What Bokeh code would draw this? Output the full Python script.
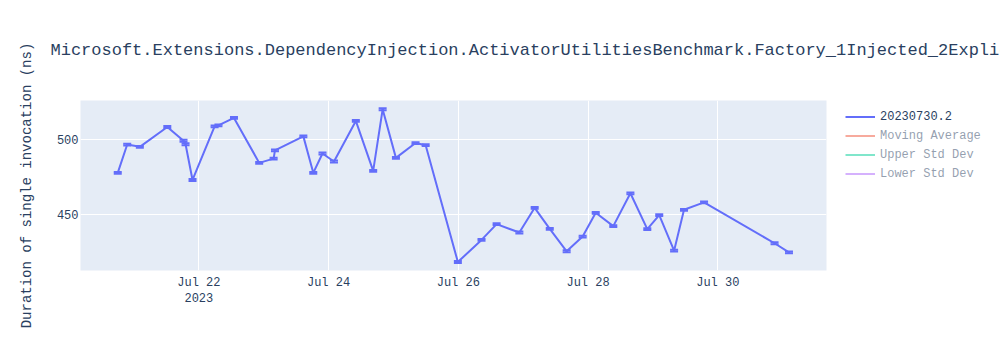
import pandas as pd
from bokeh.plotting import figure
from bokeh.models import (ColumnDataSource, Whisker, TeeHead, Legend, LegendItem,
                          DatetimeTickFormatter, DaysTicker, SingleIntervalTicker, Range1d)
from bokeh.embed import file_html
from bokeh.resources import INLINE

TITLE = "Microsoft.Extensions.DependencyInjection.ActivatorUtilitiesBenchmark.Factory_1Injected_2Explicit"
Y_LABEL = "Duration of single invocation (ns)"
SERIES_NAME = "20230730.2"
HIDDEN_SERIES = ["Moving Average", "Upper Std Dev", "Lower Std Dev"]

dates = [
    "2023-07-20 18:00", "2023-07-20 21:30", "2023-07-21 02:10", "2023-07-21 12:20",
    "2023-07-21 18:20", "2023-07-21 19:05", "2023-07-21 21:40", "2023-07-22 05:50",
    "2023-07-22 07:15", "2023-07-22 13:00", "2023-07-22 22:20", "2023-07-23 03:40",
    "2023-07-23 04:10", "2023-07-23 14:40", "2023-07-23 18:20", "2023-07-23 21:45",
    "2023-07-24 02:00", "2023-07-24 10:05", "2023-07-24 16:30", "2023-07-24 20:00",
    "2023-07-25 00:55", "2023-07-25 08:10", "2023-07-25 11:55", "2023-07-25 23:50",
    "2023-07-26 08:35", "2023-07-26 14:10", "2023-07-26 22:35", "2023-07-27 04:15",
    "2023-07-27 09:50", "2023-07-27 16:05", "2023-07-27 22:00", "2023-07-28 02:50",
    "2023-07-28 09:20", "2023-07-28 15:40", "2023-07-28 21:55", "2023-07-29 02:20",
    "2023-07-29 07:50", "2023-07-29 11:30", "2023-07-29 18:55", "2023-07-30 21:00",
    "2023-07-31 02:20",
]
durations = [
    477.8, 496.5, 495.0, 508.1,
    499.0, 496.7, 473.1, 508.5,
    509.2, 514.1, 484.4, 487.2,
    492.6, 501.9, 477.8, 490.6,
    485.3, 512.1, 479.1, 519.8,
    487.7, 497.5, 496.1, 418.9,
    433.5, 443.9, 438.4, 454.7,
    440.8, 426.0, 435.7, 451.4,
    442.6, 464.3, 440.6, 449.9,
    426.4, 453.4, 458.3, 431.3,
    425.3,
]
errors = [0.6] * len(durations)

x_start, x_end = "2023-07-20 04:13", "2023-07-31 16:13"
y_start, y_end = 413.3, 525.6

TXT = "#2a3f5f"
FONT = "Liberation Mono"

xs = pd.to_datetime(dates)
src = ColumnDataSource(dict(
    x=xs, y=durations,
    upper=[v + e for v, e in zip(durations, errors)],
    lower=[v - e for v, e in zip(durations, errors)],
))

p = figure(frame_width=746, frame_height=170, x_axis_type="datetime", output_backend="svg",
           toolbar_location=None,
           x_range=Range1d(pd.Timestamp(x_start), pd.Timestamp(x_end)),
           y_range=Range1d(y_start, y_end),
           min_border_left=80, min_border_right=0, min_border_top=100, min_border_bottom=80)
p.background_fill_color = "#e5ecf6"
p.border_fill_color = "white"
p.outline_line_color = None

p.title.text = TITLE
p.title.text_font = FONT
p.title.text_font_size = "17px"
p.title.text_font_style = "normal"
p.title.text_color = TXT
p.title.align = "left"
p.title.vertical_align = "top"
p.title.offset = -30
p.title.standoff = 78

main = p.line("x", "y", source=src, line_color="#636efa", line_width=2)
head = dict(size=8, line_color="#636efa", line_width=2)
p.add_layout(Whisker(source=src, base="x", upper="upper", lower="lower",
                     line_color="#636efa", line_width=2,
                     upper_head=TeeHead(**head), lower_head=TeeHead(**head)))

hidden_colors = ["#EF553B", "#00cc96", "#ab63fa"]
items = [LegendItem(label=SERIES_NAME, renderers=[main])]
for name, c in zip(HIDDEN_SERIES, hidden_colors):
    r = p.line(x=[xs[0]], y=[float("nan")], line_color=c, line_width=2, visible=False)
    items.append(LegendItem(label=name, renderers=[r]))

legend = Legend(items=items, location=(19, 89), click_policy="hide",
                glyph_width=30, glyph_height=15, label_height=15, spacing=4,
                label_standoff=5, padding=0, margin=0,
                label_text_font=FONT, label_text_font_size="12px", label_text_color=TXT,
                border_line_color=None, background_fill_alpha=0,
                inactive_fill_color="white", inactive_fill_alpha=0.5)
p.add_layout(legend, "right")

p.xaxis.ticker = DaysTicker(days=list(range(2, 32, 2)))
p.xaxis.formatter = DatetimeTickFormatter(days="%b %d", hours="%b %d",
                                          context=DatetimeTickFormatter(days="%Y", hours="%Y"),
                                          context_which="start")
p.yaxis.ticker = SingleIntervalTicker(interval=50)

for ax in (p.xaxis[0], p.yaxis[0]):
    ax.axis_line_color = None
    ax.major_tick_line_color = None
    ax.minor_tick_line_color = None
    ax.major_tick_out = 0
    ax.major_tick_in = 0
    ax.minor_tick_out = 0
    ax.major_label_text_font = FONT
    ax.major_label_text_font_size = "12px"
    ax.major_label_text_color = TXT

p.xaxis.major_label_standoff = 5
p.yaxis.major_label_standoff = 2
p.yaxis.axis_label = Y_LABEL
p.yaxis.axis_label_text_font = FONT
p.yaxis.axis_label_text_font_size = "14px"
p.yaxis.axis_label_text_font_style = "normal"
p.yaxis.axis_label_text_color = TXT
p.yaxis.axis_label_standoff = 19

p.xgrid.grid_line_color = "white"
p.ygrid.grid_line_color = "white"
p.xgrid.grid_line_width = 1
p.ygrid.grid_line_width = 1

open("out.html", "w").write(file_html(p, INLINE))
